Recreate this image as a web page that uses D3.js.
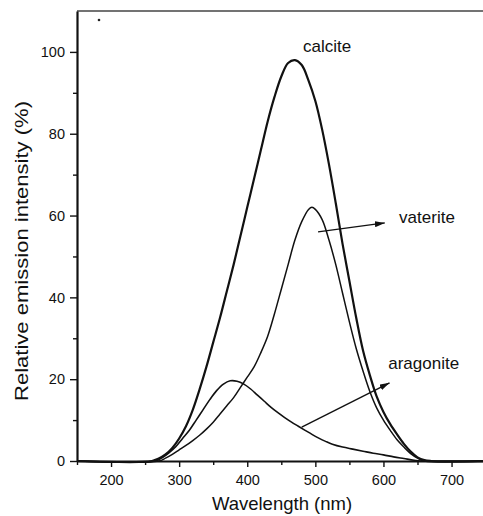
<!DOCTYPE html>
<html>
<head>
<meta charset="utf-8">
<script src="https://cdn.jsdelivr.net/npm/d3@7"></script>
<style>
  body { margin: 0; background: #fff; }
  svg { display: block; font-family: "Liberation Sans", Arial, sans-serif; }
</style>
</head>
<body>
<div id="chart"></div>
<script>
// emission spectra, [wavelength nm, relative intensity %]
const calcite = [[150,0],[260,0],[270,0.6],[280,1.6],[290,3.2],[300,5.5],[310,8.5],[320,12.5],[330,17.5],
  [340,23],[350,29],[360,35],[370,41.5],[380,48],[390,55],[400,62],[410,69],[420,76],[430,83],[440,89],
  [450,94],[460,97.3],[470,98],[480,96.8],[490,93],[500,88],[510,81],[520,72.5],[530,63],[540,53],
  [550,44],[560,35],[570,27],[580,21],[590,15.8],[600,12],[610,9],[620,6.5],[630,4.2],[640,2.3],
  [650,0.9],[660,0.2],[670,0],[750,0]];

const vaterite = [[150,0],[270,0],[280,0.7],[290,1.6],[300,2.7],[310,3.8],[320,5],[330,6.3],[340,7.8],
  [350,9.5],[360,11.5],[370,13.5],[380,15.5],[390,18],[400,20.5],[410,23],[420,26.5],[430,30.5],[440,36],
  [450,42],[460,48],[470,54],[480,58.5],[490,61.5],[495,62],[500,61.5],[510,59],[520,54],[530,48],
  [540,41],[550,34],[560,27.5],[570,22],[580,17],[590,13],[600,10],[610,7.5],[620,5.2],[630,3.4],
  [640,1.8],[650,0.7],[660,0],[750,0]];

const aragonite = [[150,0],[265,0],[275,0.8],[285,2],[295,3.5],[305,5.5],[315,7.5],[325,10],[335,12.5],
  [345,15],[355,17.2],[365,18.8],[375,19.6],[385,19.5],[395,18.8],[405,17.6],[415,16.1],[425,14.6],
  [435,13.1],[445,11.8],[455,10.6],[465,9.5],[475,8.5],[485,7.5],[495,6.5],[505,5.6],[515,4.8],
  [525,4.1],[540,3.4],[555,2.9],[570,2.4],[585,1.9],[600,1.5],[615,1],[630,0.6],[645,0.2],[655,0],[750,0]];

const xMajor = [200, 300, 400, 500, 600, 700];
const xMinor = [150, 250, 350, 450, 550, 650];
const yMajor = [0, 20, 40, 60, 80, 100];
const yMinor = [10, 30, 50, 70, 90];

// annotations: label text, label anchor, arrow from -> to (data units)
const labels = [
  { text: 'calcite', at: [482, 100] },
  { text: 'vaterite', at: [623, 58.2], from: [504, 56], to: [602, 58.2] },
  { text: 'aragonite', at: [607, 22.5], from: [480, 8.3], to: [609, 19.1] }
];

const w = 483, h = 516;

const svg = d3.select('#chart').append('svg')
  .attr('width', w)
  .attr('height', h);

svg.append('defs').append('marker')
  .attr('id', 'head')
  .attr('viewBox', '0 0 10 6')
  .attr('refX', 10).attr('refY', 3)
  .attr('markerWidth', 10).attr('markerHeight', 6)
  .attr('markerUnits', 'userSpaceOnUse')
  .attr('orient', 'auto')
  .append('path')
  .attr('d', 'M0,0 L10,3 L0,6 Z')
  .attr('fill', '#111');

const x = d3.scaleLinear().domain([150, 750]).range([77, 485.6]);
const y = d3.scaleLinear().domain([0, 110]).range([461, 11]);

// frame top
svg.append('line')
  .attr('x1', x(150)).attr('x2', w)
  .attr('y1', y(110)).attr('y2', y(110))
  .attr('stroke', '#444').attr('stroke-width', 1.6);

// minor ticks
svg.append('g')
  .attr('transform', `translate(0, ${y(0)})`)
  .call(d3.axisBottom(x).tickValues(xMinor).tickSize(4).tickFormat(''))
  .call(g => g.select('.domain').remove());

svg.append('g')
  .attr('transform', `translate(${x(150)}, 0)`)
  .call(d3.axisLeft(y).tickValues(yMinor).tickSize(4).tickFormat(''))
  .call(g => g.select('.domain').remove());

// major axes
svg.append('g')
  .attr('transform', `translate(0, ${y(0)})`)
  .call(d3.axisBottom(x).tickValues(xMajor).tickSize(6).tickSizeOuter(0).tickPadding(8));

svg.append('g')
  .attr('transform', `translate(${x(150)}, 0)`)
  .call(d3.axisLeft(y).tickValues(yMajor).tickSize(7).tickSizeOuter(0).tickPadding(5));

svg.selectAll('.domain').attr('stroke', '#111').attr('stroke-width', 2.2);
svg.selectAll('.tick line').attr('stroke', '#111').attr('stroke-width', 1.4);
svg.selectAll('.tick text')
  .attr('font-family', '"Liberation Sans", Arial, sans-serif')
  .attr('font-size', 14.5)
  .attr('fill', '#111');

// axis titles
svg.append('text')
  .attr('x', 282).attr('y', 510)
  .attr('text-anchor', 'middle')
  .attr('font-size', 18.5)
  .attr('fill', '#111')
  .text('Wavelength (nm)');

svg.append('text')
  .attr('transform', 'translate(28, 251) rotate(-90)')
  .attr('text-anchor', 'middle')
  .attr('font-size', 18.5)
  .attr('textLength', 300)
  .attr('lengthAdjust', 'spacingAndGlyphs')
  .attr('fill', '#111')
  .text('Relative emission intensity (%)');

// curves
const line = d3.line()
  .x(d => x(d[0]))
  .y(d => y(d[1]))
  .curve(d3.curveCatmullRom.alpha(0.5));

const series = [
  { data: aragonite, width: 1.6 },
  { data: vaterite, width: 1.5 },
  { data: calcite, width: 2.2 }
];

svg.selectAll('.curve')
  .data(series)
  .enter()
  .append('path')
  .attr('class', 'curve')
  .attr('d', d => line(d.data))
  .attr('fill', 'none')
  .attr('stroke', '#111')
  .attr('stroke-width', d => d.width)
  .attr('stroke-linejoin', 'round');

// labels and arrows
svg.selectAll('.arrow')
  .data(labels.filter(d => d.from))
  .enter()
  .append('line')
  .attr('class', 'arrow')
  .attr('x1', d => x(d.from[0])).attr('y1', d => y(d.from[1]))
  .attr('x2', d => x(d.to[0])).attr('y2', d => y(d.to[1]))
  .attr('stroke', '#111')
  .attr('stroke-width', 1.4)
  .attr('marker-end', 'url(#head)');

svg.selectAll('.label')
  .data(labels)
  .enter()
  .append('text')
  .attr('class', 'label')
  .attr('x', d => x(d.at[0]))
  .attr('y', d => y(d.at[1]))
  .attr('font-size', 17)
  .attr('fill', '#111')
  .text(d => d.text);

// speck near top left of the scan
svg.append('circle')
  .attr('cx', 99).attr('cy', 20).attr('r', 1.3)
  .attr('fill', '#222');
</script>
</body>
</html>
